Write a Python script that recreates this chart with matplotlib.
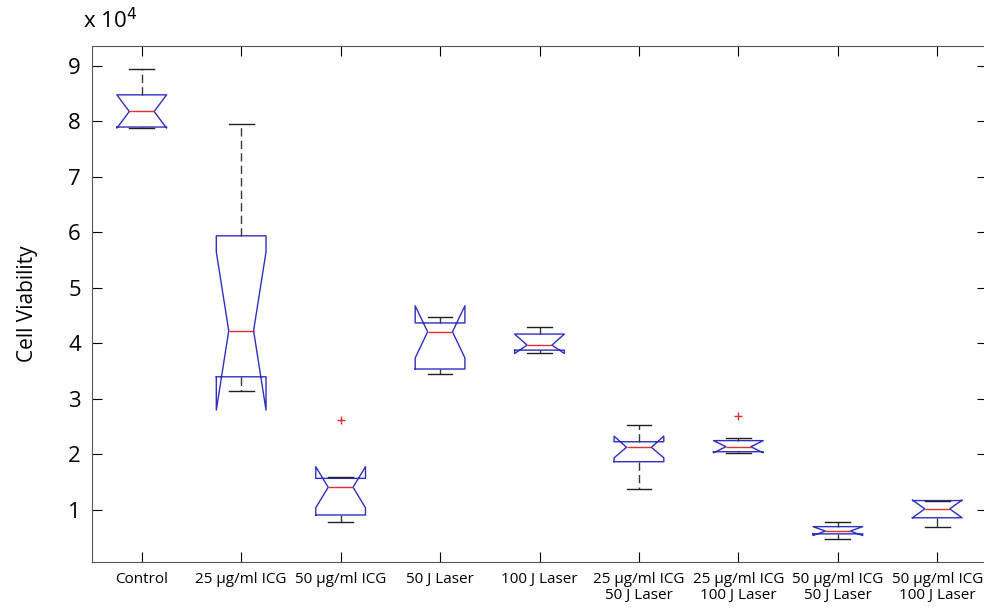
import numpy as np
import matplotlib
matplotlib.use("Agg")
import matplotlib.pyplot as plt
from matplotlib.ticker import FuncFormatter

plt.rcParams['font.family'] = ['Open Sans', 'DejaVu Sans']

# group names (two-line labels for the combined treatments)
labels = ["Control", "25 \u00b5g/ml ICG", "50 \u00b5g/ml ICG", "50 J Laser", "100 J Laser",
          "25 \u00b5g/ml ICG\n50 J Laser", "25 \u00b5g/ml ICG\n100 J Laser",
          "50 \u00b5g/ml ICG\n50 J Laser", "50 \u00b5g/ml ICG\n100 J Laser"]

# box statistics (cell counts)
med    = [81800, 42300, 14100, 42100, 39700, 21300, 21400, 6200, 10200]
q1     = [79000, 34000,  9100, 35400, 38800, 18700, 20500, 5700,  8600]
q3     = [84800, 59400, 15700, 43700, 41700, 22300, 22500, 7000, 11700]
whislo = [78800, 31500,  7800, 34500, 38300, 13700, 20200, 4700,  7000]
whishi = [89500, 79500, 15900, 44700, 43000, 25300, 22900, 7800, 11700]
cilo   = [78800, 28000, 10400, 37400, 38200, 19400, 20300, 5400,  8600]
cihi   = [84800, 56500, 17800, 46800, 41700, 23300, 22500, 7000, 11800]
fliers = [[], [], [26300], [], [], [], [26900], [], []]

stats = []
for i in range(len(labels)):
    stats.append(dict(med=med[i], q1=q1[i], q3=q3[i], whislo=whislo[i], whishi=whishi[i],
                      cilo=cilo[i], cihi=cihi[i], fliers=fliers[i], label=labels[i]))

fig = plt.figure(figsize=(9.84, 6.08), dpi=100)
ax = fig.add_axes([92/984, 46/608, 895/984, 516/608])

pos = np.arange(1, len(labels) + 1)
ax.bxp(stats, positions=pos, widths=0.5, capwidths=0.25, shownotches=True,
       boxprops=dict(color='#2f2fc0', lw=1.0),
       medianprops=dict(color='#e03030', lw=1.0),
       whiskerprops=dict(color='#383838', lw=1.0, linestyle=(0, (6, 3))),
       capprops=dict(color='#202020', lw=1.0),
       flierprops=dict(marker='+', markeredgecolor='#e03030', markersize=6, lw=0))

ax.set_xlim(0.5, 9.5)
ax.set_ylim(630, 93600)
ax.set_yticks(np.arange(10000, 90001, 10000))
ax.yaxis.set_major_formatter(FuncFormatter(lambda v, p: "%d" % round(v / 10000)))
ax.set_xticks(pos)
ax.set_xticklabels(labels, fontsize=11, linespacing=1.1)
ax.tick_params(axis='y', labelsize=16, direction='in', length=7, right=True, pad=8)
ax.tick_params(axis='x', direction='in', length=7, top=True, pad=7)
for s in ax.spines.values():
    s.set_color('#555555')

ax.set_ylabel("Cell Viability", fontsize=15, labelpad=22)
ax.text(-0.01, 1.025, "x 10$^4$", transform=ax.transAxes, fontsize=16, ha='left', va='bottom')

fig.savefig("out.png", dpi=100)
